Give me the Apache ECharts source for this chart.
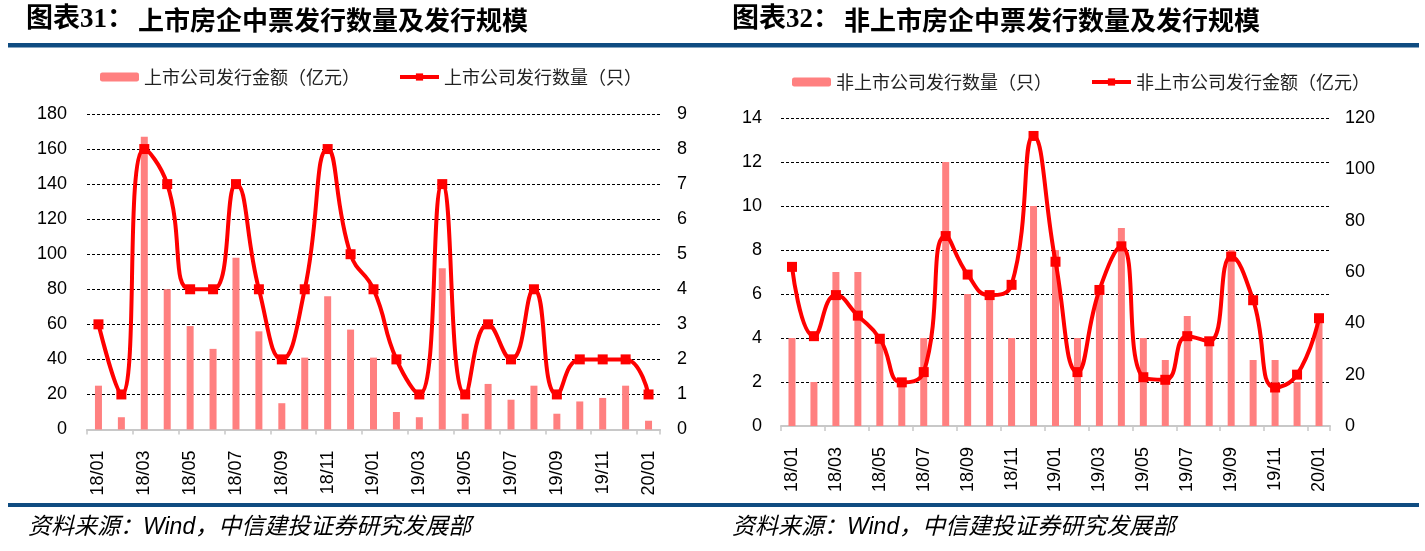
<!DOCTYPE html>
<html><head><meta charset="utf-8">
<script src="https://cdn.jsdelivr.net/npm/echarts@6/dist/echarts.min.js"></script>
<style>html,body{margin:0;padding:0;background:#fff}#c{width:1425px;height:551px}</style>
</head><body><div id="c"></div>
<script>
const categories = ['18/01','18/02','18/03','18/04','18/05','18/06','18/07','18/08','18/09','18/10','18/11','18/12',
  '19/01','19/02','19/03','19/04','19/05','19/06','19/07','19/08','19/09','19/10','19/11','19/12','20/01'];
// 图表31
const listedAmount = [25,7,167,80,59,46,98,56,15,41,76,57,41,10,7,92,9,26,17,25,9,16,18,25,5];
const listedCount  = [3,1,8,7,4,4,7,4,2,4,8,5,4,2,1,7,1,3,2,4,1,2,2,2,1];
// 图表32
const unlistedCount  = [4,2,7,7,4,2,4,12,6,6,4,10,8,4,6,9,4,3,5,4,8,3,3,2,5];
const unlistedAmount = [62,35,51,43,34,17,21,74,59,51,55,113,64,21,53,70,19,18,35,33,66,49,15,20,42];

const title1a = '图表31：', title1b = '上市房企中票发行数量及发行规模';
const title2a = '图表32：', title2b = '非上市房企中票发行数量及发行规模';
const source = '资料来源：Wind，中信建投证券研究发展部';
const names = ['上市公司发行金额（亿元）','上市公司发行数量（只）','非上市公司发行数量（只）','非上市公司发行金额（亿元）'];

const BAR = '#ff8080', LINE = '#ff0000', BLUE = '#0f4c81';
const FONT = '"Liberation Sans", Arial, "Noto Sans CJK SC", sans-serif';
const TFONT = '"Liberation Serif", "Noto Sans CJK SC", serif';
const SFONT = 'italic 23px "Liberation Sans", "Noto Sans CJK SC", sans-serif';

function xAxis(gi){
  return {type:'category', gridIndex:gi, data:categories, boundaryGap:true,
    axisLine:{show:true, lineStyle:{color:'#c8c8c8', width:2}},
    axisTick:{show:true, interval:1, length:5, lineStyle:{color:'#c8c8c8', width:1.5}},
    axisLabel:{interval:1, rotate:90, margin:21, fontSize:18, color:'#000', fontFamily:FONT},
    splitLine:{show:false}};
}
function yAxis(gi, min, max, interval, pos, margin, split){
  return {type:'value', gridIndex:gi, min, max, interval, position:pos,
    axisLine:{show:false}, axisTick:{show:false},
    axisLabel:{fontSize:18, color:'#000', fontFamily:FONT, margin},
    splitLine:{show:split, lineStyle:{color:'#000', type:[3,2], width:1}}};
}
const lineSeries = (name, data, xi, yi) => ({name, type:'line', data, xAxisIndex:xi, yAxisIndex:yi,
  smooth:0.5, symbol:'rect', symbolSize:10, z:5,
  lineStyle:{color:LINE, width:4}, itemStyle:{color:LINE}});
const barSeries = (name, data, xi, yi) => ({name, type:'bar', data, xAxisIndex:xi, yAxisIndex:yi,
  barWidth:7, itemStyle:{color:BAR}, z:2});
const legend = (left, top, data) => ({left, top, itemWidth:39, itemHeight:9, itemGap:38, data,
  lineStyle:{width:4}, itemStyle:{},
  textStyle:{fontSize:18, color:'#222', fontFamily:'"Noto Sans CJK SC", sans-serif'}});

const chart = echarts.init(document.getElementById('c'), null, {renderer:'canvas'});
chart.setOption({
  animation:false,
  backgroundColor:'#fff',
  textStyle:{fontFamily:FONT},
  grid:[
    {left:87, top:114, width:573, height:315.5},
    {left:781, top:118, width:549, height:308}
  ],
  legend:[
    legend(95, 63, [names[0], names[1]]),
    legend(787, 68, [names[2], names[3]])
  ],
  xAxis:[xAxis(0), xAxis(1)],
  yAxis:[
    yAxis(0, 0, 180, 20, 'left', 20, true),
    yAxis(0, 0, 9, 1, 'right', 17, false),
    yAxis(1, 0, 14, 2, 'left', 19, true),
    yAxis(1, 0, 120, 20, 'right', 15, false)
  ],
  series:[
    barSeries(names[0], listedAmount, 0, 0),
    lineSeries(names[1], listedCount, 0, 1),
    barSeries(names[2], unlistedCount, 1, 2),
    lineSeries(names[3], unlistedAmount, 1, 3)
  ],
  graphic:[
    {type:'text', left:26, top:7, style:{text:title1a, font:'bold 27px ' + TFONT, fill:'#000'}},
    {type:'text', left:138, top:7, style:{text:title1b, font:'bold 26px "Noto Sans CJK SC", sans-serif', fill:'#000'}},
    {type:'text', left:732, top:7, style:{text:title2a, font:'bold 27px ' + TFONT, fill:'#000'}},
    {type:'text', left:844, top:7, style:{text:title2b, font:'bold 26px "Noto Sans CJK SC", sans-serif', fill:'#000'}},
    {type:'rect', left:8, top:43, shape:{width:1411, height:4.5}, style:{fill:BLUE}},
    {type:'rect', left:8, top:503, shape:{width:1411, height:4}, style:{fill:BLUE}},
    {type:'text', left:28, top:516, style:{text:source, font:SFONT, fill:'#000'}},
    {type:'text', left:732, top:516, style:{text:source, font:SFONT, fill:'#000'}}
  ]
});
</script></body></html>
